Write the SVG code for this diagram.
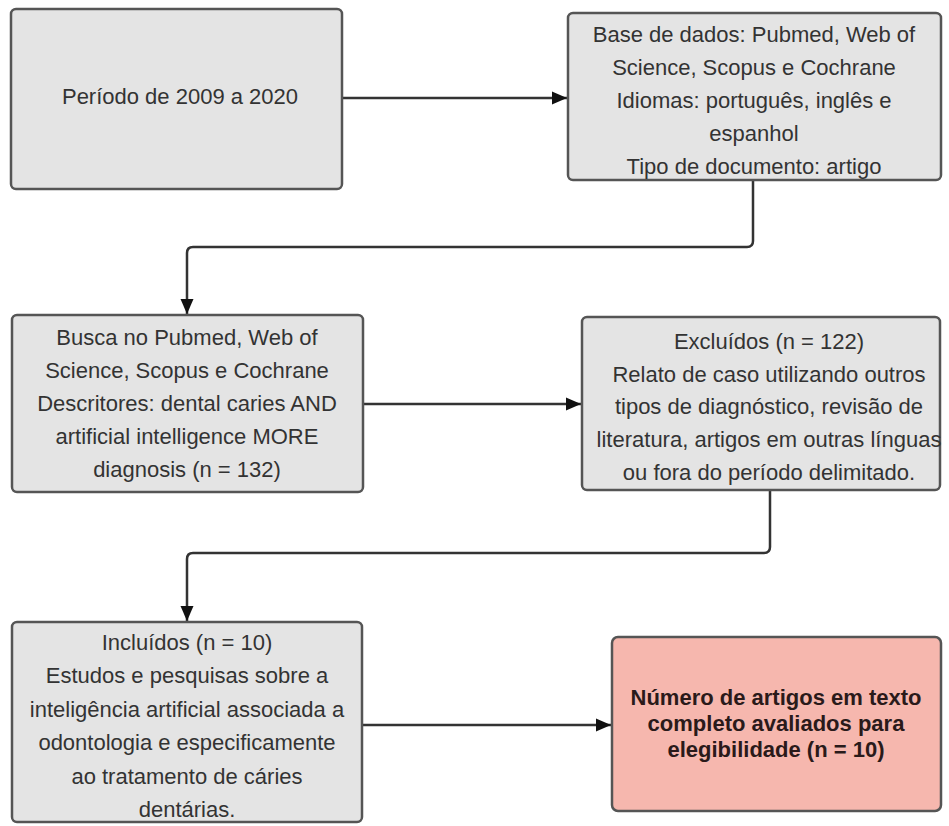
<svg xmlns="http://www.w3.org/2000/svg" width="949" height="826" viewBox="0 0 949 826">
<style>
.box{fill:#e4e4e4;stroke:#555;stroke-width:2.5}
.red{fill:#f6b7ae;stroke:#555;stroke-width:2.5}
.t{font-family:"Liberation Sans",Arial,sans-serif;font-size:22px;fill:#333;text-anchor:middle}
.b{font-family:"Liberation Sans",Arial,sans-serif;font-size:22px;font-weight:bold;fill:#2a1a1a;text-anchor:middle}
.c{fill:none;stroke:#333;stroke-width:2.5}
</style>
<defs>
<marker id="ah" markerWidth="16" markerHeight="16" refX="15" refY="7.5" orient="auto" markerUnits="userSpaceOnUse">
<path d="M0,1 L15,7.5 L0,14 Z" fill="#111"/>
</marker>
</defs>
<rect width="949" height="826" fill="#fff"/>
<g id="connectors">
<path class="c" d="M342,98 H567" marker-end="url(#ah)"/>
<path class="c" d="M753,180 V241 Q753,247 747,247 H193 Q187,247 187,253 V314" marker-end="url(#ah)"/>
<path class="c" d="M363,404 H581" marker-end="url(#ah)"/>
<path class="c" d="M770,490 V547 Q770,553 764,553 H193 Q187,553 187,559 V621" marker-end="url(#ah)"/>
<path class="c" d="M362,725 H611" marker-end="url(#ah)"/>
</g>
<g id="n1">
<rect class="box" x="11" y="9" width="331" height="180" rx="5"/>
<text class="t" x="180" y="104">Período de 2009 a 2020</text>
</g>
<g id="n2">
<rect class="box" x="568" y="13" width="373" height="167" rx="5"/>
<text class="t" x="754" y="42">Base de dados: Pubmed, Web of</text>
<text class="t" x="754" y="75">Science, Scopus e Cochrane</text>
<text class="t" x="754" y="108">Idiomas: português, inglês e</text>
<text class="t" x="754" y="141">espanhol</text>
<text class="t" x="754" y="174">Tipo de documento: artigo</text>
</g>
<g id="n3">
<rect class="box" x="12" y="315" width="351" height="177" rx="5"/>
<text class="t" x="187" y="345">Busca no Pubmed, Web of</text>
<text class="t" x="187" y="378">Science, Scopus e Cochrane</text>
<text class="t" x="187" y="411">Descritores: dental caries AND</text>
<text class="t" x="187" y="444">artificial intelligence MORE</text>
<text class="t" x="187" y="477">diagnosis (n = 132)</text>
</g>
<g id="n4">
<rect class="box" x="582" y="317" width="358" height="173" rx="5"/>
<text class="t" x="769" y="349">Excluídos (n = 122)</text>
<text class="t" x="769" y="382">Relato de caso utilizando outros</text>
<text class="t" x="769" y="414">tipos de diagnóstico, revisão de</text>
<text class="t" x="769" y="447">literatura, artigos em outras línguas</text>
<text class="t" x="769" y="480">ou fora do período delimitado.</text>
</g>
<g id="n5">
<rect class="box" x="12" y="622" width="350" height="200" rx="5"/>
<text class="t" x="187" y="650">Incluídos (n = 10)</text>
<text class="t" x="187" y="683">Estudos e pesquisas sobre a</text>
<text class="t" x="187" y="717">inteligência artificial associada a</text>
<text class="t" x="187" y="750">odontologia e especificamente</text>
<text class="t" x="187" y="784">ao tratamento de cáries</text>
<text class="t" x="187" y="817">dentárias.</text>
</g>
<g id="n6">
<rect class="red" x="612" y="637" width="329" height="174" rx="6"/>
<text class="b" x="776" y="705">Número de artigos em texto</text>
<text class="b" x="776" y="731">completo avaliados para</text>
<text class="b" x="776" y="757">elegibilidade (n = 10)</text>
</g>
</svg>
